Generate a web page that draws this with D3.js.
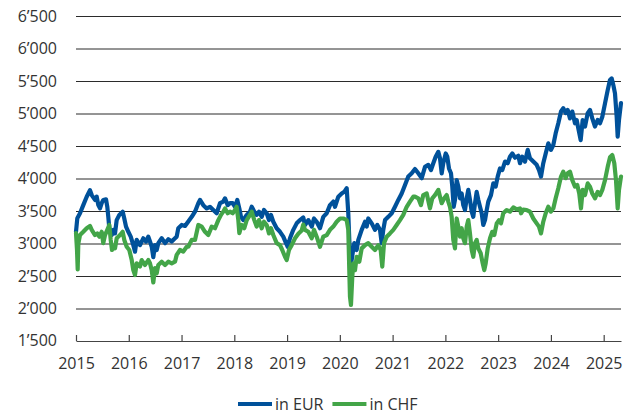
<!DOCTYPE html>
<html>
<head>
<meta charset="utf-8">
<script src="https://cdn.jsdelivr.net/npm/d3@7/dist/d3.min.js"></script>
<style>
  html, body { margin: 0; padding: 0; background: #fff; }
  svg { display: block; }
  svg text { font-family: "Open Sans", "Noto Sans", sans-serif; }
</style>
</head>
<body>
<svg id="chart" width="635" height="417"></svg>
<script>
// Index level, [fractional year, value]
const eur = [
  [2015.000,3180],[2015.025,3390],[2015.076,3465],[2015.138,3590],[2015.203,3720],[2015.265,3820],
  [2015.298,3745],[2015.360,3670],[2015.392,3720],[2015.423,3590],[2015.455,3540],[2015.487,3620],
  [2015.517,3670],[2015.569,3680],[2015.593,3565],[2015.612,3410],[2015.631,3235],[2015.677,3130],
  [2015.707,3210],[2015.739,3155],[2015.771,3360],[2015.821,3440],[2015.885,3490],[2015.915,3385],
  [2015.948,3260],[2015.991,3180],[2016.037,3105],[2016.086,2975],[2016.118,2875],[2016.150,3055],
  [2016.213,2975],[2016.275,3080],[2016.327,3030],[2016.370,3105],[2016.402,3030],[2016.435,2950],
  [2016.465,2790],[2016.497,2975],[2016.529,2900],[2016.560,3005],[2016.624,3080],[2016.687,3005],
  [2016.749,3065],[2016.814,3030],[2016.876,3080],[2016.908,3105],[2016.939,3235],[2017.003,3285],
  [2017.066,3270],[2017.128,3340],[2017.193,3410],[2017.255,3490],[2017.318,3620],[2017.350,3670],
  [2017.412,3590],[2017.477,3540],[2017.539,3565],[2017.602,3515],[2017.666,3465],[2017.729,3620],
  [2017.791,3645],[2017.824,3695],[2017.875,3590],[2017.918,3620],[2017.969,3620],[2018.013,3565],
  [2018.057,3670],[2018.095,3540],[2018.127,3410],[2018.170,3360],[2018.235,3440],[2018.297,3490],
  [2018.330,3565],[2018.379,3490],[2018.424,3440],[2018.468,3490],[2018.519,3410],[2018.563,3515],
  [2018.614,3465],[2018.657,3360],[2018.695,3440],[2018.739,3335],[2018.803,3235],[2018.866,3180],
  [2018.928,3105],[2018.980,3005],[2019.012,2950],[2019.055,3080],[2019.118,3210],[2019.182,3310],
  [2019.245,3360],[2019.307,3400],[2019.340,3285],[2019.402,3360],[2019.467,3260],[2019.510,3385],
  [2019.561,3335],[2019.624,3235],[2019.686,3410],[2019.751,3465],[2019.813,3590],[2019.876,3645],
  [2019.908,3565],[2019.971,3720],[2020.035,3770],[2020.084,3795],[2020.130,3850],[2020.160,3465],
  [2020.179,3055],[2020.206,2650],[2020.243,2850],[2020.274,3005],[2020.319,2900],[2020.350,3055],
  [2020.414,3210],[2020.477,3335],[2020.509,3260],[2020.539,3385],[2020.604,3310],[2020.666,3210],
  [2020.710,3285],[2020.761,3210],[2020.793,3005],[2020.823,3210],[2020.856,3360],[2020.918,3410],
  [2020.983,3465],[2021.045,3565],[2021.108,3670],[2021.172,3770],[2021.235,3900],[2021.297,4030],
  [2021.362,4080],[2021.424,4145],[2021.487,4080],[2021.551,4005],[2021.614,4180],[2021.676,4210],
  [2021.727,4130],[2021.771,4235],[2021.816,4335],[2021.866,4410],[2021.898,4310],[2021.930,4080],
  [2021.960,4235],[2022.006,4385],[2022.036,4335],[2022.068,4155],[2022.106,4080],[2022.131,3875],
  [2022.157,3565],[2022.182,3670],[2022.214,3975],[2022.245,3875],[2022.277,3695],[2022.309,3770],
  [2022.339,3590],[2022.372,3515],[2022.404,3695],[2022.434,3825],[2022.466,3670],[2022.499,3490],
  [2022.529,3410],[2022.561,3620],[2022.593,3795],[2022.624,3670],[2022.656,3565],[2022.688,3465],
  [2022.718,3285],[2022.751,3360],[2022.783,3515],[2022.813,3645],[2022.864,3745],[2022.908,3925],
  [2022.953,3875],[2022.991,4030],[2023.035,4155],[2023.078,4130],[2023.130,4260],[2023.181,4235],
  [2023.224,4335],[2023.268,4385],[2023.319,4320],[2023.382,4350],[2023.414,4235],[2023.457,4335],
  [2023.509,4260],[2023.560,4440],[2023.603,4310],[2023.666,4260],[2023.730,4210],[2023.774,4130],
  [2023.812,4030],[2023.855,4235],[2023.901,4385],[2023.950,4540],[2024.001,4440],[2024.045,4515],
  [2024.090,4695],[2024.140,4850],[2024.191,5030],[2024.234,5080],[2024.280,5005],[2024.318,5055],
  [2024.361,4925],[2024.405,5030],[2024.456,4850],[2024.488,4900],[2024.519,4770],[2024.564,4590],
  [2024.602,4900],[2024.646,4800],[2024.697,5005],[2024.740,5055],[2024.784,4925],[2024.835,4800],
  [2024.886,4900],[2024.930,4850],[2024.974,4950],[2025.025,5155],[2025.076,5360],[2025.119,5515],
  [2025.152,5540],[2025.182,5440],[2025.214,5310],[2025.246,4950],[2025.265,4645],[2025.290,4900],
  [2025.328,5160]
];

const chf = [
  [2015.000,3160],[2015.019,2900],[2015.032,2600],[2015.044,3000],[2015.076,3130],[2015.138,3180],
  [2015.203,3235],[2015.265,3270],[2015.298,3210],[2015.360,3130],[2015.404,3155],[2015.442,3105],
  [2015.487,3180],[2015.517,3005],[2015.550,3130],[2015.593,3210],[2015.631,3285],[2015.658,3055],
  [2015.682,2900],[2015.707,2950],[2015.739,2925],[2015.771,3080],[2015.834,3130],[2015.885,3180],
  [2015.915,3055],[2015.961,2950],[2016.010,2900],[2016.056,2745],[2016.086,2590],[2016.118,2515],
  [2016.150,2695],[2016.213,2645],[2016.245,2745],[2016.308,2670],[2016.370,2745],[2016.402,2695],
  [2016.435,2590],[2016.465,2400],[2016.497,2620],[2016.529,2540],[2016.560,2670],[2016.624,2720],
  [2016.687,2670],[2016.749,2720],[2016.814,2695],[2016.876,2720],[2016.908,2825],[2016.971,2900],
  [2017.033,2875],[2017.098,2950],[2017.128,2950],[2017.193,3055],[2017.255,3055],[2017.318,3285],
  [2017.382,3260],[2017.445,3180],[2017.507,3130],[2017.572,3260],[2017.634,3235],[2017.697,3360],
  [2017.748,3440],[2017.791,3490],[2017.824,3540],[2017.875,3465],[2017.918,3490],[2017.969,3465],
  [2018.013,3515],[2018.045,3565],[2018.076,3360],[2018.095,3160],[2018.140,3285],[2018.189,3235],
  [2018.235,3360],[2018.297,3440],[2018.330,3490],[2018.379,3360],[2018.424,3260],[2018.468,3360],
  [2018.519,3235],[2018.563,3335],[2018.614,3285],[2018.657,3155],[2018.695,3235],[2018.739,3130],
  [2018.803,3005],[2018.866,2975],[2018.909,2900],[2018.961,2795],[2018.993,2745],[2019.036,2900],
  [2019.087,2975],[2019.150,3080],[2019.213,3150],[2019.277,3200],[2019.307,3290],[2019.340,3210],
  [2019.402,3180],[2019.467,3080],[2019.510,3210],[2019.561,3105],[2019.624,2950],[2019.686,3105],
  [2019.751,3130],[2019.813,3210],[2019.876,3260],[2019.940,3335],[2020.003,3385],[2020.065,3385],
  [2020.130,3360],[2020.160,3210],[2020.179,2590],[2020.192,2180],[2020.211,2055],[2020.236,2490],
  [2020.255,2695],[2020.287,2590],[2020.319,2795],[2020.369,2720],[2020.414,2925],[2020.477,2975],
  [2020.539,3005],[2020.604,2950],[2020.666,2900],[2020.729,2975],[2020.774,2900],[2020.804,2645],
  [2020.837,3005],[2020.888,3105],[2020.950,3155],[2021.013,3210],[2021.077,3285],[2021.140,3360],
  [2021.202,3440],[2021.267,3565],[2021.329,3645],[2021.392,3720],[2021.424,3720],[2021.487,3695],
  [2021.538,3590],[2021.581,3745],[2021.646,3770],[2021.708,3540],[2021.752,3695],[2021.803,3745],
  [2021.866,3825],[2021.898,3720],[2021.930,3620],[2021.979,3695],[2022.025,3745],[2022.055,3645],
  [2022.087,3565],[2022.119,3410],[2022.150,3055],[2022.182,2925],[2022.214,3385],[2022.245,3260],
  [2022.277,3105],[2022.309,3235],[2022.339,3080],[2022.372,3005],[2022.404,3260],[2022.434,3360],
  [2022.466,3155],[2022.499,2900],[2022.529,2795],[2022.561,3005],[2022.593,3055],[2022.624,2925],
  [2022.669,2850],[2022.707,2695],[2022.737,2590],[2022.764,2695],[2022.802,2925],[2022.846,3080],
  [2022.889,3180],[2022.927,3130],[2022.973,3310],[2023.016,3360],[2023.054,3310],[2023.097,3465],
  [2023.161,3515],[2023.224,3490],[2023.287,3555],[2023.351,3525],[2023.414,3540],[2023.433,3465],
  [2023.476,3520],[2023.541,3515],[2023.603,3490],[2023.666,3385],[2023.730,3310],[2023.774,3260],
  [2023.812,3155],[2023.855,3335],[2023.901,3465],[2023.950,3565],[2024.001,3490],[2024.045,3540],
  [2024.090,3695],[2024.140,3850],[2024.191,4030],[2024.234,4105],[2024.280,4005],[2024.318,4080],
  [2024.361,4105],[2024.405,3975],[2024.456,3875],[2024.499,3900],[2024.537,3770],[2024.570,3540],
  [2024.602,3825],[2024.646,3745],[2024.697,3925],[2024.740,3875],[2024.784,3770],[2024.835,3695],
  [2024.886,3795],[2024.930,3745],[2024.974,3825],[2025.025,3975],[2025.076,4180],[2025.119,4325],
  [2025.163,4360],[2025.201,4235],[2025.233,3975],[2025.265,3540],[2025.290,3825],[2025.328,4030]
];

const seriesNames = ["in EUR", "in CHF"];
const seriesColors = ["#00519a", "#43a548"];
const yTicks = [1500, 2000, 2500, 3000, 3500, 4000, 4500, 5000, 5500, 6000, 6500];
const xTicks = [2015, 2016, 2017, 2018, 2019, 2020, 2021, 2022, 2023, 2024, 2025];

const margin = { left: 76, right: 14, top: 16, bottom: 76 };
const W = 635, H = 417;
const fontSize = "16px";
const svg = d3.select("#chart");

const x = d3.scaleLinear().domain([2015, 2025.328]).range([margin.left, W - margin.right]);
const y = d3.scaleLinear().domain([1500, 6500]).range([H - margin.bottom, margin.top]);

const fmt = d3.formatLocale({ decimal: ".", thousands: "\u2019", grouping: [3], currency: ["", ""] }).format(",");

// Horizontal gridlines with value labels
const gy = svg.append("g")
  .attr("transform", `translate(${margin.left},0)`)
  .call(d3.axisLeft(y).tickValues(yTicks.slice(1)).tickFormat(fmt)
    .tickSize(-(W - margin.left - margin.right)).tickPadding(19));
gy.select(".domain").remove();
gy.selectAll(".tick line").attr("stroke", "#2b2b2b").attr("stroke-width", 1);
gy.selectAll(".tick text").attr("fill", "#333").style("font-size", fontSize)
  .style("font-family", "'Open Sans', sans-serif");

// Bottom label for the baseline
svg.append("text")
  .attr("x", margin.left - 19).attr("y", y(1500)).attr("dy", "0.32em")
  .attr("text-anchor", "end").attr("fill", "#333").style("font-size", fontSize)
  .text(fmt(yTicks[0]));

// Time axis: baseline with upward ticks
const gx = svg.append("g")
  .attr("transform", `translate(0,${y(1500)})`)
  .call(d3.axisBottom(x).tickValues(xTicks).tickFormat(d3.format("d"))
    .tickSizeInner(-6).tickSizeOuter(0).tickPadding(17));
gx.select(".domain").attr("stroke", "#444").attr("stroke-width", 1.2);
gx.selectAll(".tick line").attr("stroke", "#444").attr("stroke-width", 1.2);
gx.selectAll(".tick text").attr("fill", "#333").style("font-size", fontSize)
  .style("font-family", "'Open Sans', sans-serif");

// Series lines
const line = d3.line().x(d => x(d[0])).y(d => y(d[1]));
[eur, chf].forEach((data, i) => {
  svg.append("path")
    .datum(data)
    .attr("d", line)
    .attr("fill", "none")
    .attr("stroke", seriesColors[i])
    .attr("stroke-width", 4.2)
    .attr("stroke-linejoin", "round")
    .attr("stroke-linecap", "round");
});

// Legend
const legend = svg.append("g").attr("transform", "translate(238,404)");
let lx = 0;
seriesNames.forEach((name, i) => {
  const g = legend.append("g").attr("transform", `translate(${lx},0)`);
  g.append("line").attr("x1", 0).attr("x2", 34).attr("y1", 0).attr("y2", 0)
    .attr("stroke", seriesColors[i]).attr("stroke-width", 4);
  const t = g.append("text").attr("x", 37).attr("y", 0).attr("dy", "0.35em")
    .attr("fill", "#333").style("font-size", fontSize).text(name);
  lx += 37 + t.node().getComputedTextLength() + 9;
});
</script>
</body>
</html>
